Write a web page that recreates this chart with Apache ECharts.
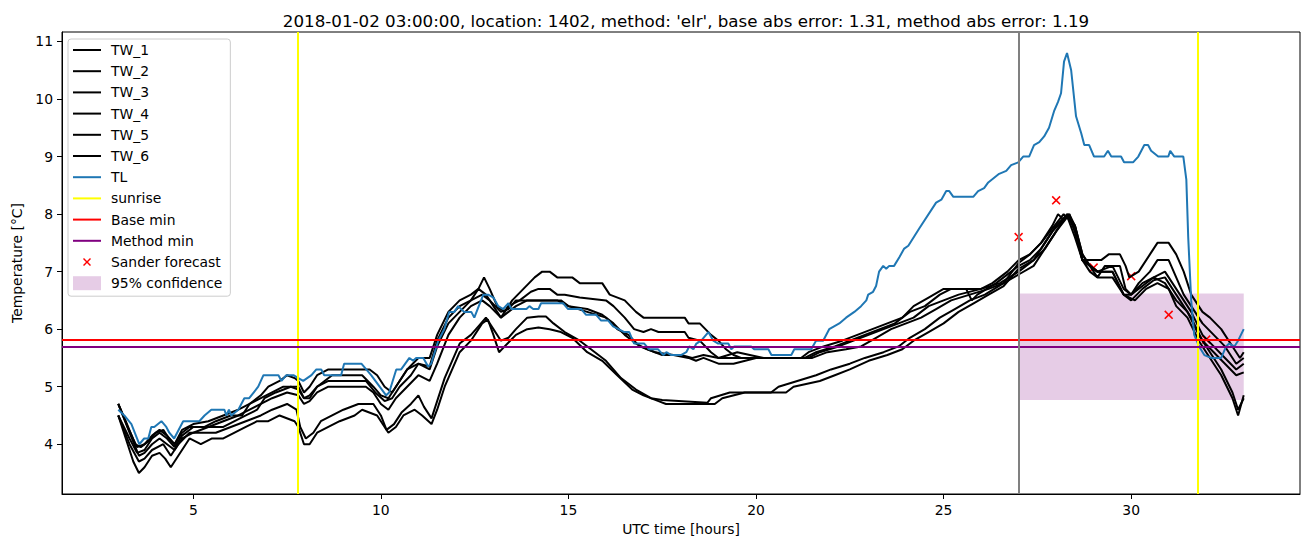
<!DOCTYPE html>
<html><head><meta charset="utf-8">
<script src="https://cdn.jsdelivr.net/npm/echarts@6/dist/echarts.min.js"></script>
<style>html,body{margin:0;padding:0;background:#fff}#c{width:1311px;height:547px}</style>
</head><body><div id="c"></div>
<script>
const titleText = "2018-01-02 03:00:00, location: 1402, method: 'elr', base abs error: 1.31, method abs error: 1.19";
const xTicks = [5, 10, 15, 20, 25, 30];
const yTicks = [4, 5, 6, 7, 8, 9, 10, 11];
const sunriseHours = [7.78, 31.77];
const forecastStartHour = [27];
const baseMin = [5.82];
const methodMin = [5.70];
const sanderHours = [27, 28, 29, 30, 31, 32];
const sanderValues = [7.6, 8.24, 7.07, 6.92, 6.25, 5.82];
const confHours = [27, 33];
const confRange = [4.77, 6.62];

const TW_1 = [[3.0,4.7],[3.2,4.4],[3.45,4.0],[3.6,3.95],[3.8,4.05],[4.0,4.2],[4.2,4.25],[4.35,4.1],[4.5,4.0],[4.7,4.2],[4.9,4.3],[5.3,4.3],[5.6,4.4],[6.0,4.5],[6.3,4.5],[6.5,4.7],[6.8,4.85],[7.0,5.0],[7.3,5.1],[7.5,5.2],[7.7,5.15],[7.8,5.1],[7.95,4.9],[8.1,5.0],[8.3,5.2],[8.6,5.3],[9.7,5.3],[9.9,5.2],[10.1,5.0],[10.3,4.9],[10.5,5.1],[10.7,5.3],[11.0,5.5],[11.3,5.5],[11.5,5.9],[11.8,6.3],[12.1,6.5],[12.4,6.6],[12.6,6.7],[12.75,6.9],[12.9,6.7],[13.1,6.4],[13.3,6.3],[13.5,6.5],[13.8,6.7],[14.1,6.9],[14.3,7.0],[14.5,7.0],[14.7,6.9],[15.1,6.9],[15.3,6.8],[15.9,6.8],[16.1,6.6],[16.5,6.5],[16.8,6.3],[17.0,6.2],[18.1,6.2],[18.2,6.1],[18.5,6.1],[18.65,6.0],[18.8,5.9],[19.0,5.8],[19.2,5.65],[19.4,5.55],[19.6,5.5],[21.2,5.5],[21.4,5.6],[21.8,5.7],[22.3,5.8],[22.7,5.9],[23.1,6.0],[23.5,6.1],[23.9,6.2],[24.2,6.4],[24.6,6.55],[25.0,6.7],[26.0,6.7],[26.3,6.8],[26.7,7.0],[27.0,7.2],[27.3,7.3],[27.6,7.5],[27.9,7.8],[28.05,8.0],[28.2,7.9],[28.35,8.0],[28.5,7.7],[28.7,7.2],[28.9,7.2],[29.2,7.2],[29.4,7.3],[29.7,7.3],[29.85,7.1],[29.95,6.9],[30.2,7.0],[30.5,7.3],[30.7,7.5],[31.0,7.5],[31.2,7.3],[31.4,7.0],[31.6,6.6],[31.9,6.3],[32.1,6.2],[32.4,6.0],[32.7,5.7],[32.9,5.5],[33.0,5.6]];
const TW_2 = [[3.0,4.7],[3.3,4.2],[3.55,3.8],[3.7,3.85],[3.9,4.0],[4.1,4.1],[4.3,4.0],[4.5,3.9],[4.7,4.1],[5.0,4.2],[5.4,4.3],[5.8,4.3],[6.1,4.4],[6.4,4.5],[6.7,4.6],[6.9,4.8],[7.2,4.9],[7.6,5.0],[7.8,4.95],[7.95,4.8],[8.1,4.8],[8.3,5.0],[8.5,5.1],[8.7,5.2],[9.5,5.2],[9.8,5.0],[10.0,4.85],[10.2,4.8],[10.4,5.0],[10.7,5.3],[11.0,5.4],[11.3,5.35],[11.5,5.8],[11.8,6.2],[12.1,6.4],[12.4,6.5],[12.6,6.7],[12.8,6.6],[13.0,6.4],[13.2,6.2],[13.4,6.4],[13.7,6.5],[14.0,6.65],[14.2,6.7],[14.5,6.7],[14.7,6.6],[14.9,6.6],[15.3,6.55],[16.0,6.5],[16.2,6.4],[16.5,6.2],[16.75,6.0],[17.0,5.95],[17.2,6.0],[17.4,5.95],[18.1,5.95],[18.2,5.85],[18.5,5.8],[18.8,5.6],[19.0,5.5],[21.3,5.5],[21.6,5.6],[22.1,5.7],[22.5,5.8],[22.9,5.9],[23.3,6.0],[23.7,6.1],[24.1,6.3],[24.5,6.4],[24.9,6.6],[25.2,6.7],[25.6,6.7],[25.75,6.5],[25.9,6.6],[26.4,6.8],[26.8,7.0],[27.0,7.1],[27.3,7.2],[27.6,7.4],[27.9,7.7],[28.2,7.9],[28.35,8.0],[28.5,7.8],[28.7,7.3],[28.9,7.1],[29.1,6.9],[29.3,7.1],[29.7,7.1],[29.85,6.7],[30.0,6.6],[30.2,6.8],[30.5,7.0],[30.7,7.2],[31.0,7.2],[31.2,6.9],[31.4,6.6],[31.6,6.4],[31.9,6.1],[32.2,5.9],[32.5,5.7],[32.8,5.4],[33.0,5.5]];
const TW_3 = [[3.0,4.7],[3.25,4.3],[3.5,3.95],[3.7,4.0],[3.9,4.15],[4.1,4.25],[4.3,4.15],[4.5,4.0],[4.7,4.25],[5.0,4.35],[5.4,4.4],[5.8,4.5],[6.2,4.6],[6.5,4.7],[6.8,4.8],[7.1,4.9],[7.4,5.0],[7.8,5.0],[7.95,4.8],[8.1,4.85],[8.3,5.0],[8.6,5.1],[9.6,5.1],[9.85,4.9],[10.1,4.75],[10.3,4.8],[10.5,5.0],[10.8,5.2],[11.0,5.4],[11.3,5.3],[11.5,5.7],[11.8,6.1],[12.1,6.3],[12.4,6.5],[12.7,6.6],[12.9,6.5],[13.2,6.3],[13.4,6.35],[13.6,6.5],[13.8,6.5],[14.8,6.5],[15.0,6.4],[15.5,6.35],[15.9,6.25],[16.2,6.1],[16.5,5.9],[16.8,5.75],[17.1,5.65],[17.5,5.55],[18.0,5.55],[18.3,5.5],[18.6,5.55],[19.0,5.5],[19.5,5.6],[20.2,5.5],[21.4,5.5],[21.7,5.6],[22.2,5.7],[22.6,5.8],[23.0,5.9],[23.4,6.0],[23.8,6.1],[24.2,6.2],[24.6,6.4],[25.0,6.5],[25.4,6.6],[26.0,6.7],[26.5,6.8],[27.0,7.0],[27.4,7.2],[27.7,7.5],[28.0,7.8],[28.3,8.0],[28.5,7.7],[28.7,7.2],[28.9,7.1],[29.1,7.0],[29.5,7.1],[29.8,6.7],[30.0,6.6],[30.3,6.8],[30.6,6.9],[30.9,7.0],[31.1,6.8],[31.3,6.6],[31.6,6.3],[31.9,5.9],[32.2,5.7],[32.5,5.5],[32.8,5.3],[33.0,5.4]];
const TW_4 = [[3.0,4.5],[3.3,4.1],[3.5,3.85],[3.7,3.9],[3.9,4.1],[4.1,4.2],[4.3,4.1],[4.5,3.95],[4.7,4.15],[5.0,4.3],[5.4,4.3],[5.8,4.4],[6.2,4.5],[6.5,4.6],[6.8,4.7],[7.1,4.8],[7.5,4.9],[7.8,4.85],[7.95,4.7],[8.1,4.75],[8.3,4.9],[8.6,5.0],[9.6,5.0],[9.8,4.9],[10.0,4.7],[10.2,4.6],[10.4,4.8],[10.7,5.0],[11.0,5.2],[11.3,5.1],[11.5,5.4],[11.8,5.9],[12.1,6.2],[12.4,6.4],[12.7,6.5],[12.9,6.4],[13.2,6.2],[13.4,6.3],[13.6,6.4],[13.9,6.5],[14.7,6.5],[15.0,6.4],[15.5,6.3],[16.0,6.2],[16.3,6.0],[16.6,5.9],[16.9,5.7],[17.3,5.6],[17.8,5.55],[18.2,5.5],[18.4,5.45],[18.6,5.5],[19.0,5.4],[19.4,5.4],[20.0,5.5],[21.5,5.5],[21.9,5.6],[22.4,5.65],[22.8,5.7],[23.2,5.85],[23.6,6.0],[24.0,6.1],[24.4,6.2],[24.8,6.35],[25.2,6.5],[25.7,6.6],[26.2,6.7],[26.6,6.8],[27.0,6.95],[27.4,7.1],[27.7,7.4],[28.0,7.7],[28.3,7.95],[28.5,7.6],[28.7,7.2],[28.9,7.0],[29.1,6.9],[29.5,6.9],[29.8,6.6],[30.0,6.5],[30.3,6.7],[30.6,6.85],[30.9,6.9],[31.1,6.7],[31.3,6.5],[31.6,6.2],[31.9,5.8],[32.2,5.6],[32.5,5.4],[32.8,5.2],[33.0,5.25]];
const TW_5 = [[3.0,4.5],[3.3,4.0],[3.55,3.7],[3.7,3.75],[3.9,3.9],[4.2,4.0],[4.4,3.8],[4.6,4.0],[4.9,4.2],[5.3,4.2],[5.6,4.2],[6.0,4.3],[6.4,4.4],[6.8,4.5],[7.1,4.6],[7.5,4.7],[7.75,4.6],[7.85,4.3],[8.0,4.1],[8.2,4.2],[8.4,4.4],[8.7,4.5],[9.0,4.6],[9.4,4.7],[9.8,4.7],[10.0,4.5],[10.15,4.25],[10.35,4.35],[10.55,4.55],[10.8,4.7],[11.0,4.85],[11.15,4.65],[11.35,4.45],[11.5,4.75],[11.7,5.15],[11.9,5.45],[12.1,5.75],[12.4,5.9],[12.6,6.05],[12.8,6.2],[13.0,6.0],[13.2,5.8],[13.4,5.85],[13.6,6.0],[13.9,6.2],[14.2,6.22],[14.4,6.22],[14.6,6.1],[14.9,5.95],[15.3,5.8],[15.6,5.65],[16.0,5.45],[16.4,5.15],[16.8,4.95],[17.2,4.8],[17.5,4.77],[18.7,4.72],[18.8,4.8],[19.3,4.9],[20.4,4.9],[20.6,5.0],[21.1,5.1],[21.6,5.2],[22.0,5.3],[22.5,5.4],[22.9,5.5],[23.4,5.6],[23.8,5.7],[24.1,5.85],[24.5,6.0],[24.9,6.2],[25.3,6.35],[25.7,6.5],[26.1,6.6],[26.6,6.8],[27.0,7.15],[27.3,7.3],[27.6,7.5],[27.9,7.75],[28.2,8.0],[28.5,7.8],[28.7,7.3],[28.9,7.1],[29.1,7.0],[29.5,7.0],[29.8,6.6],[30.0,6.6],[30.3,6.75],[30.6,6.9],[30.9,6.8],[31.2,6.5],[31.5,6.3],[31.8,5.9],[32.1,5.6],[32.4,5.3],[32.7,4.9],[32.85,4.6],[33.0,4.8]];
const TW_6 = [[3.0,4.5],[3.2,4.1],[3.4,3.7],[3.55,3.5],[3.7,3.6],[3.9,3.8],[4.1,3.85],[4.25,3.75],[4.4,3.6],[4.6,3.8],[4.9,4.1],[5.2,4.0],[5.5,4.1],[5.8,4.1],[6.1,4.2],[6.4,4.3],[6.7,4.4],[7.0,4.4],[7.3,4.5],[7.7,4.4],[7.8,4.3],[7.95,4.0],[8.1,4.0],[8.3,4.2],[8.6,4.3],[8.9,4.4],[9.3,4.5],[9.5,4.6],[9.9,4.5],[10.1,4.3],[10.2,4.2],[10.4,4.3],[10.6,4.5],[10.9,4.6],[11.1,4.5],[11.35,4.35],[11.5,4.6],[11.7,5.0],[11.9,5.3],[12.1,5.6],[12.4,5.8],[12.7,6.1],[12.85,6.17],[13.0,5.9],[13.15,5.6],[13.3,5.7],[13.6,5.9],[13.9,6.0],[14.2,6.03],[14.5,6.0],[14.8,5.95],[15.1,5.85],[15.5,5.6],[15.9,5.45],[16.3,5.2],[16.7,4.95],[17.0,4.85],[17.4,4.75],[17.6,4.7],[18.9,4.7],[19.1,4.8],[19.7,4.9],[20.8,4.9],[21.0,5.0],[21.7,5.1],[22.1,5.2],[22.5,5.3],[23.0,5.45],[23.5,5.55],[23.9,5.65],[24.2,5.8],[24.6,5.95],[25.0,6.1],[25.4,6.3],[25.8,6.45],[26.2,6.6],[26.6,6.75],[27.0,7.05],[27.4,7.2],[27.7,7.4],[28.0,7.7],[28.3,8.0],[28.5,7.8],[28.7,7.2],[28.9,7.1],[29.1,7.0],[29.5,7.0],[29.8,6.6],[30.1,6.5],[30.4,6.7],[30.7,6.8],[31.0,6.7],[31.2,6.4],[31.5,6.2],[31.8,5.8],[32.1,5.5],[32.4,5.2],[32.7,4.8],[32.85,4.5],[33.0,4.85]];
const TL = [[3.0,4.6],[3.16,4.5],[3.35,4.35],[3.56,4.0],[3.69,4.1],[3.8,4.1],[3.88,4.3],[3.96,4.3],[4.15,4.4],[4.28,4.3],[4.36,4.2],[4.49,4.1],[4.73,4.4],[5.16,4.4],[5.3,4.5],[5.48,4.6],[5.83,4.6],[5.88,4.5],[5.95,4.6],[6.01,4.5],[6.2,4.6],[6.36,4.8],[6.49,4.8],[6.73,5.0],[6.87,5.2],[7.27,5.2],[7.35,5.1],[7.48,5.2],[7.67,5.2],[7.8,5.15],[7.93,5.1],[8.15,5.2],[8.28,5.3],[8.41,5.3],[8.49,5.2],[8.94,5.2],[9.02,5.4],[9.48,5.4],[9.74,5.2],[10.14,4.85],[10.22,4.9],[10.41,5.3],[10.54,5.3],[10.76,5.5],[10.86,5.45],[10.94,5.5],[11.13,5.5],[11.26,5.35],[11.34,5.4],[11.53,5.8],[11.69,6.0],[11.82,6.3],[11.96,6.3],[12.06,6.4],[12.22,6.3],[12.41,6.3],[12.49,6.2],[12.73,6.6],[12.86,6.6],[13.0,6.55],[13.13,6.4],[13.26,6.35],[13.4,6.45],[13.48,6.35],[13.88,6.35],[13.96,6.4],[14.06,6.35],[14.2,6.35],[14.27,6.45],[14.86,6.45],[14.99,6.35],[15.34,6.35],[15.47,6.25],[15.74,6.25],[15.87,6.15],[16.06,6.15],[16.19,6.05],[16.49,5.95],[16.62,5.95],[16.75,5.75],[17.02,5.75],[17.15,5.65],[17.39,5.65],[17.53,5.55],[17.61,5.6],[17.74,5.55],[18.0,5.55],[18.14,5.6],[18.22,5.7],[18.33,5.65],[18.41,5.75],[18.54,5.8],[18.73,5.95],[18.86,5.8],[18.99,5.75],[19.26,5.75],[19.34,5.65],[19.42,5.7],[19.87,5.7],[19.95,5.65],[20.33,5.65],[20.41,5.55],[20.94,5.55],[21.02,5.65],[21.47,5.65],[21.6,5.8],[21.79,5.8],[21.95,6.0],[22.08,6.05],[22.22,6.1],[22.4,6.2],[22.62,6.3],[22.8,6.4],[22.94,6.5],[22.99,6.6],[23.12,6.65],[23.2,6.75],[23.28,7.0],[23.39,7.1],[23.47,7.05],[23.55,7.1],[23.68,7.1],[23.82,7.25],[23.95,7.4],[24.06,7.45],[24.35,7.75],[24.8,8.2],[24.94,8.25],[25.07,8.4],[25.15,8.4],[25.26,8.3],[25.79,8.3],[25.92,8.4],[26.08,8.45],[26.19,8.55],[26.48,8.7],[26.67,8.75],[26.8,8.85],[26.99,8.9],[27.12,9.0],[27.28,9.0],[27.41,9.2],[27.55,9.25],[27.68,9.35],[27.81,9.5],[27.95,9.8],[28.05,9.95],[28.13,10.1],[28.21,10.65],[28.29,10.8],[28.4,10.5],[28.53,9.7],[28.67,9.4],[28.75,9.2],[28.88,9.2],[29.01,9.0],[29.28,9.0],[29.38,9.1],[29.47,9.0],[29.73,9.0],[29.81,8.9],[30.05,8.9],[30.19,9.0],[30.35,9.2],[30.45,9.2],[30.53,9.1],[30.72,9.0],[30.99,9.0],[31.04,9.1],[31.15,9.0],[31.39,9.0],[31.47,8.6],[31.52,7.6],[31.6,6.5],[31.68,5.9],[31.81,5.7],[31.95,5.55],[32.13,5.5],[32.4,5.5],[32.53,5.7],[32.61,5.75],[32.75,5.7],[32.85,5.8],[33.0,6.0]];

const twNames = ['TW_1','TW_2','TW_3','TW_4','TW_5','TW_6'];
const twData = [TW_1, TW_2, TW_3, TW_4, TW_5, TW_6];

const FONT = 'DejaVu Sans';
const xMarker = 'path://M0,1L1,0L4,3L7,0L8,1L5,4L8,7L7,8L4,5L1,8L0,7L3,4Z';
const xLegendIcon = 'path://M0,0M14,14M3,4L4,3L7,6L10,3L11,4L8,7L11,10L10,11L7,8L4,11L3,10L6,7Z';
const lineLegendIcon = 'path://M0,0L28,0L28,2L0,2Z';

const series = [];
twData.forEach((d, i) => {
  series.push({
    name: twNames[i], type: 'line', data: d, symbol: 'none', showSymbol: false,
    lineStyle: {color: '#000', width: 2}, itemStyle: {color: '#000'}, silent: true
  });
});
series.push({
  name: 'TL', type: 'line', data: TL, symbol: 'none', showSymbol: false,
  lineStyle: {color: '#1f77b4', width: 2}, itemStyle: {color: '#1f77b4'}, silent: true
});
series.push({
  name: 'sunrise', type: 'line', data: [], symbol: 'none',
  lineStyle: {color: '#ffff00', width: 2}, itemStyle: {color: '#ffff00'},
  markLine: {silent: true, symbol: ['none','none'], label: {show: false},
    lineStyle: {color: '#ffff00', width: 2, type: 'solid'},
    data: sunriseHours.map(h => ({xAxis: h}))}
});
series.push({
  name: 'Base min', type: 'line', data: [], symbol: 'none',
  lineStyle: {color: '#ff0000', width: 2}, itemStyle: {color: '#ff0000'},
  markLine: {silent: true, symbol: ['none','none'], label: {show: false},
    lineStyle: {color: '#ff0000', width: 2, type: 'solid'},
    data: baseMin.map(v => ({yAxis: v}))}
});
series.push({
  name: 'Method min', type: 'line', data: [], symbol: 'none',
  lineStyle: {color: '#800080', width: 2}, itemStyle: {color: '#800080'},
  markLine: {silent: true, symbol: ['none','none'], label: {show: false},
    lineStyle: {color: '#800080', width: 2, type: 'solid'},
    data: methodMin.map(v => ({yAxis: v}))}
});
series.push({
  name: 'Sander forecast', type: 'scatter', symbol: xMarker, symbolSize: 9,
  itemStyle: {color: '#ff0000', opacity: 1}, silent: true,
  data: sanderHours.map((h, i) => [h, sanderValues[i]])
});
series.push({
  name: '95% confidence', type: 'line', data: [], symbol: 'none',
  itemStyle: {color: 'rgba(128,0,128,0.2)'}, lineStyle: {color: 'rgba(128,0,128,0.2)'},
  markArea: {silent: true, itemStyle: {color: 'rgba(128,0,128,0.2)'},
    data: [[{coord: [confHours[0], confRange[1]]}, {coord: [confHours[1], confRange[0]]}]]},
  markLine: {silent: true, symbol: ['none','none'], label: {show: false},
    lineStyle: {color: '#808080', width: 2, type: 'solid'},
    data: forecastStartHour.map(h => ({xAxis: h}))}
});

const lineColors = {TW_1:'#000',TW_2:'#000',TW_3:'#000',TW_4:'#000',TW_5:'#000',TW_6:'#000',
  TL:'#1f77b4', sunrise:'#ffff00', 'Base min':'#ff0000', 'Method min':'#800080'};
const legendData = Object.keys(lineColors).map(n => ({name: n, icon: lineLegendIcon,
  itemStyle: {color: lineColors[n], borderWidth: 0}}));
legendData.push({name: 'Sander forecast', icon: xLegendIcon, itemStyle: {color: '#ff0000', borderWidth: 0}});
legendData.push({name: '95% confidence', icon: 'rect', itemStyle: {color: 'rgba(128,0,128,0.2)', borderWidth: 0}});

const chart = echarts.init(document.getElementById('c'), null, {renderer: 'svg'});
chart.setOption({
  animation: false,
  backgroundColor: '#fff',
  title: {text: titleText, left: 681, textAlign: 'center', top: 7,
    textStyle: {fontFamily: FONT, fontSize: 16.7, fontWeight: 'normal', color: '#000'}},
  grid: {left: 62, right: 11, top: 32, bottom: 53, show: true, borderColor: '#000', borderWidth: 1},
  legend: {
    orient: 'vertical', left: 68, top: 39,
    itemWidth: 28, itemHeight: 14, itemGap: 7.2,
    padding: [4, 8, 6, 5],
    backgroundColor: 'rgba(255,255,255,0.8)', borderColor: '#cccccc', borderWidth: 1, borderRadius: 3,
    textStyle: {fontFamily: FONT, fontSize: 13.9, color: '#000', padding: [0, 0, 0, 5]},
    selectedMode: false,
    data: legendData
  },
  xAxis: {
    type: 'value', min: 1.5, max: 34.5,
    name: 'UTC time [hours]', nameLocation: 'middle', nameGap: 28,
    nameTextStyle: {fontFamily: FONT, fontSize: 13.9, color: '#000'},
    axisLine: {show: true, lineStyle: {color: '#000', width: 1}},
    axisTick: {show: true, length: 5, lineStyle: {color: '#000'}, customValues: xTicks},
    axisLabel: {fontFamily: FONT, fontSize: 13.9, color: '#000', margin: 9, customValues: xTicks},
    splitLine: {show: false}
  },
  yAxis: {
    type: 'value', min: 3.135, max: 11.165,
    name: 'Temperature [°C]', nameLocation: 'middle', nameGap: 37, nameRotate: 90,
    nameTextStyle: {fontFamily: FONT, fontSize: 13.9, color: '#000'},
    axisLine: {show: true, lineStyle: {color: '#000', width: 1}},
    axisTick: {show: true, length: 5, lineStyle: {color: '#000'}, customValues: yTicks},
    axisLabel: {fontFamily: FONT, fontSize: 13.9, color: '#000', margin: 9, customValues: yTicks},
    splitLine: {show: false}
  },
  series: series
});
</script>
</body></html>
